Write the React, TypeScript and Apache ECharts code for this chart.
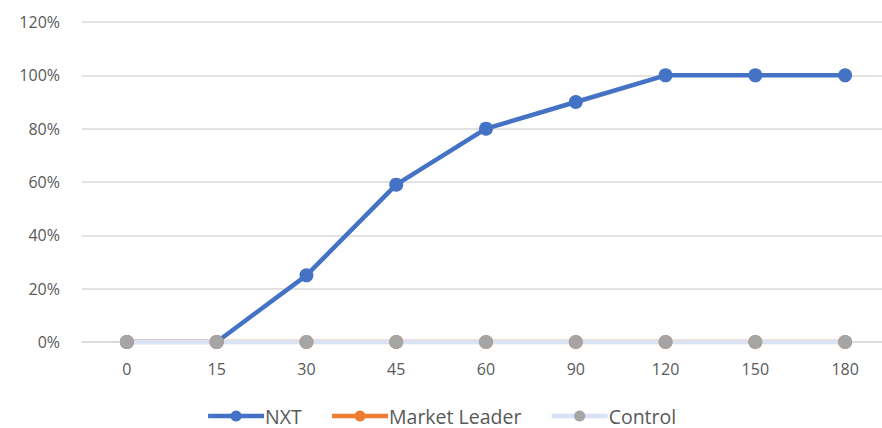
import React, { useEffect, useRef } from "react";
import * as echarts from "echarts";

const categories = ["0", "15", "30", "45", "60", "90", "120", "150", "180"];
const nxt = [0, 0, 25, 59, 80, 90, 100, 100, 100];
const marketLeader = [0, 0, 0, 0, 0, 0, 0, 0, 0];
const control = [0, 0, 0, 0, 0, 0, 0, 0, 0];

export default function App() {
  const ref = useRef<HTMLDivElement>(null);
  useEffect(() => {
    const chart = echarts.init(ref.current!, null, { renderer: "svg" });
    const font = "'Open Sans', sans-serif";
    chart.setOption({
      animation: false,
      textStyle: { fontFamily: font },
      grid: { left: 82, top: 22, width: 808, height: 320, outerBoundsMode: "none", containLabel: false },
      legend: {
        bottom: 1,
        left: "center",
        padding: 0,
        itemWidth: 56,
        itemHeight: 14,
        itemGap: 28,
        lineStyle: { width: 4.5 },
        textStyle: {
          fontSize: 19.5,
          lineHeight: 22,
          color: "#595959",
          fontFamily: font,
          padding: [0, 0, 0, -4],
        },
        data: ["NXT", "Market Leader", "Control"],
      },
      xAxis: {
        type: "category",
        data: categories,
        boundaryGap: true,
        axisLine: { lineStyle: { color: "#d9d9d9", width: 1.5 } },
        axisTick: { show: false },
        axisLabel: { color: "#595959", fontSize: 16, margin: 19, fontFamily: font },
      },
      yAxis: {
        type: "value",
        min: 0,
        max: 120,
        interval: 20,
        axisLabel: {
          formatter: "{value}%",
          color: "#595959",
          fontSize: 16,
          margin: 22,
          fontFamily: font,
        },
        splitLine: { lineStyle: { color: "#d9d9d9", width: 1.5 } },
        axisLine: { show: false },
        axisTick: { show: false },
      },
      series: [
        {
          name: "NXT",
          type: "line",
          data: nxt,
          symbol: "circle",
          symbolSize: 14,
          lineStyle: { color: "#4472C4", width: 4.5 },
          itemStyle: { color: "#4472C4" },
        },
        {
          name: "Market Leader",
          type: "line",
          data: marketLeader,
          symbol: "circle",
          symbolSize: 14,
          lineStyle: { color: "#ED7D31", width: 4.5 },
          itemStyle: { color: "#ED7D31" },
        },
        {
          name: "Control",
          type: "line",
          data: control,
          symbol: "circle",
          symbolSize: 14,
          lineStyle: { color: "#DAE3F3", width: 4.5 },
          itemStyle: { color: "#A5A5A5" },
        },
      ],
    });
    return () => chart.dispose();
  }, []);
  return (
    <div
      ref={ref}
      style={{ position: "fixed", left: 0, top: 0, width: 882, height: 428, background: "#fff" }}
    />
  );
}
